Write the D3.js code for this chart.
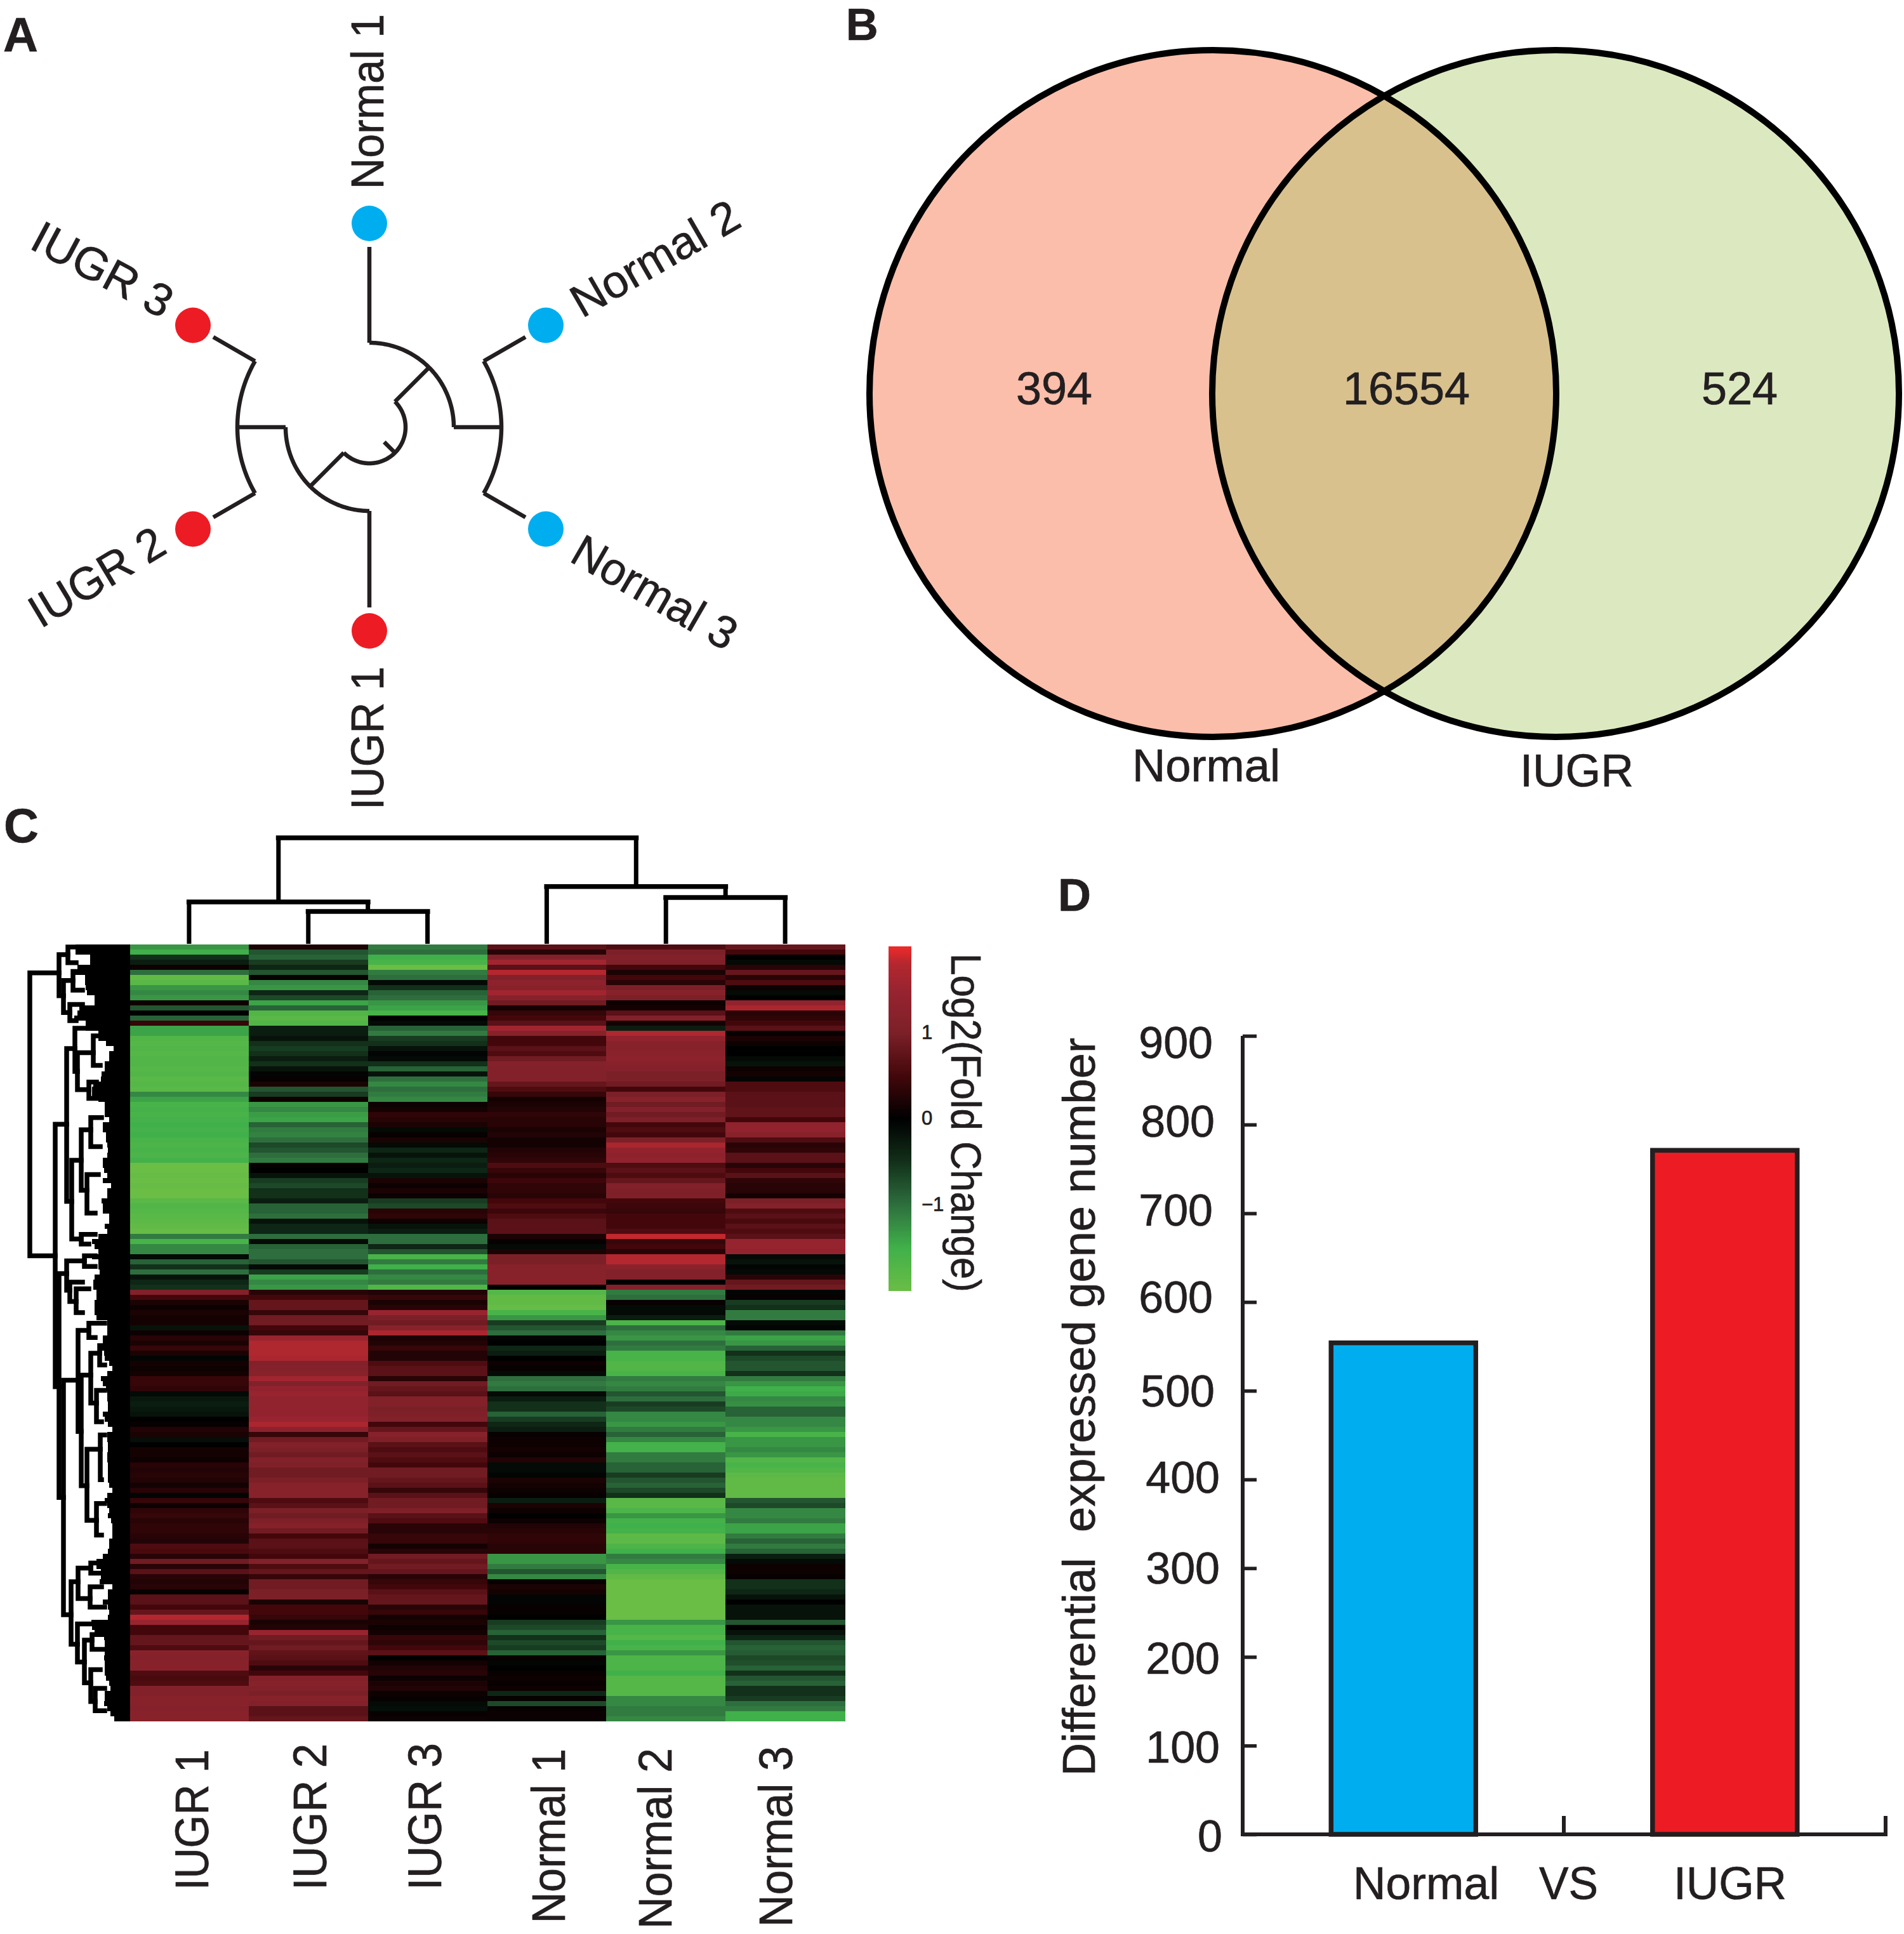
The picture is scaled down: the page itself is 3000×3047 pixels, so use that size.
<!DOCTYPE html>
<html><head><meta charset="utf-8">
<style>html,body{margin:0;padding:0;background:#fff}svg{display:block}text{font-family:"Liberation Sans",Arial,sans-serif;fill:#231f20;stroke:#231f20;stroke-width:0.7px}</style>
<script src="https://cdn.jsdelivr.net/npm/d3@7"></script>
</head><body><svg id="c" width="3000" height="3047"></svg>
<script>
// ---------- data ----------
const treeLeaves = ["Normal 1","Normal 2","Normal 3","IUGR 1","IUGR 2","IUGR 3"];
const treeLeafAngles = [0,60,120,180,240,300];
const treeLeafColors = ["#00aeef","#00aeef","#00aeef","#ed1c24","#ed1c24","#ed1c24"];
const treeArcs = [[208,60,120],[133,0,90],[57,45,225],[132,180,270],[208,240,300]];           // radius, from, to
const treeStems = [[0,133,284],[60,208,284],[120,208,284],[180,132,284],[240,208,284],[300,208,284],
                   [90,133,208],[45,57,133],[225,57,133],[270,132,208],[135,33,57]];           // angle, r0, r1

const vennCounts = [394,16554,524];
const vennNames = ["Normal","IUGR"];

const heatSamples = ["IUGR 1","IUGR 2","IUGR 3","Normal 1","Normal 2","Normal 3"];
const heatIUGR1 = [
-1.3,-1.5,-0.5,-0.3,0.1,-1.0,-1.9,-1.8,-1.3,-1.2,
-1.3,0.1,-0.8,0.0,-0.9,0.4,-1.4,-1.4,-1.7,-1.75,
-1.7,-1.75,-1.7,-1.7,-1.75,-1.7,-1.8,-1.75,-1.8,-1.2,
-1.4,-1.6,-1.55,-1.6,-1.55,-1.5,-1.55,-1.5,-1.6,-1.65,
-1.6,-1.65,-1.55,-2.0,-2.0,-1.95,-2.0,-1.95,-2.0,-2.0,
-1.8,-1.7,-1.75,-1.8,-1.85,-1.9,-1.95,-1.1,-1.6,-1.2,
-1.2,-0.1,-0.9,-0.5,-1.0,-0.2,-0.4,-0.5,1.1,0.5,
0.2,0.1,0.2,0.15,0.15,-0.2,0.1,0.3,0.2,0.4,
0.2,-0.05,0.15,0.1,0.15,0.4,0.4,0.35,-0.1,-0.25,
-0.3,-0.25,-0.2,0.0,0.05,0.25,0.2,-0.15,0.0,0.15,
0.15,0.1,0.3,0.25,0.3,0.25,0.15,0.3,-0.05,0.4,
0.1,0.35,0.4,0.3,0.35,0.35,0.3,0.25,0.6,0.55,
0.3,0.9,0.3,0.7,0.3,0.25,0.3,0.05,0.7,0.7,
0.5,0.8,1.8,1.5,0.5,0.5,0.8,0.8,0.6,1.2,
1.15,1.2,1.2,0.6,0.55,0.6,1.1,1.1,1.2,1.2,
1.15,1.2,1.2];
const heatIUGR2 = [
0.2,-0.8,-0.9,-0.6,-0.4,-0.8,0.05,-1.2,-1.3,-0.4,
-0.7,-1.4,-0.9,-1.7,-1.8,-1.7,-0.3,-0.3,-0.2,-0.5,
-0.6,-0.5,-0.3,-0.5,-0.2,-0.05,0.05,0.2,-0.8,-0.6,
0.1,-1.3,-1.2,-1.35,-1.4,-0.9,-1.1,-1.15,-1.0,-0.7,
-0.8,-1.0,-1.1,0.05,0.0,-0.2,-0.6,-0.7,-0.5,-0.5,
-0.3,-0.9,-0.9,-1.0,-0.2,-0.4,-0.4,-1.0,-0.1,-0.9,
-1.0,-1.0,-0.8,-0.1,-0.6,-1.4,-1.2,-1.3,0.3,0.5,
0.8,0.8,0.4,0.9,0.9,0.5,0.4,1.5,1.75,1.75,
1.75,1.7,1.1,1.15,1.2,1.6,1.1,1.4,1.5,1.35,
1.35,1.4,1.4,1.5,1.7,1.3,0.4,0.9,1.1,1.0,
0.9,1.1,1.05,0.9,0.9,1.0,1.2,1.2,1.2,0.6,
0.7,1.0,0.9,1.05,1.15,0.9,0.5,0.7,0.7,0.6,
0.5,1.1,0.6,0.8,0.4,0.9,0.9,1.0,1.0,0.2,
0.5,0.5,0.4,0.2,0.25,1.5,0.9,0.8,0.9,0.75,
0.7,0.6,0.3,0.5,1.1,1.2,1.1,1.0,1.2,1.1,
0.7,0.7,0.8];
const heatIUGR3 = [
-1.1,-1.0,-1.5,-1.6,-2.0,-1.1,-1.0,-0.1,-0.5,-0.9,
-1.0,-1.3,-1.4,-1.6,0.0,-0.1,-0.9,-1.1,-0.6,-0.5,
-0.2,-0.05,-0.1,-0.5,-0.9,-0.2,-1.0,-1.2,-1.0,-1.1,
-1.2,0.1,0.15,0.35,0.3,0.2,-0.1,0.05,0.2,-0.1,
-0.4,-0.2,-0.4,-0.3,-0.4,-0.2,0.2,0.1,0.2,0.1,
-0.6,-0.7,0.3,0.35,0.1,-0.2,-0.3,-1.0,-1.0,-0.4,
-0.8,-1.6,-1.1,-1.5,-1.0,-1.2,-1.1,-1.7,0.25,0.4,
0.2,0.3,1.5,1.0,0.9,1.2,1.7,0.2,0.25,0.4,
0.25,0.25,0.6,0.7,0.7,0.3,0.9,0.8,0.7,1.1,
1.1,1.0,1.05,1.1,0.5,0.8,1.2,1.05,0.7,0.6,
0.7,0.6,0.5,0.9,0.9,0.8,0.7,0.4,0.7,0.9,
0.9,1.05,0.7,0.6,0.3,0.3,0.4,0.4,0.15,0.3,
0.9,0.8,0.9,0.8,0.3,0.4,0.5,0.7,0.8,0.8,
0.3,0.4,0.15,0.2,0.1,0.15,0.4,0.35,0.5,0.7,
0.0,0.15,0.25,0.3,0.1,0.2,0.25,0.1,0.05,-0.1,
-0.15,0.05,0.1];
const heatNormal1 = [
0.7,0.3,1.1,1.6,0.7,1.8,1.1,1.3,1.2,1.6,
1.2,0.9,0.15,0.4,0.5,0.7,1.6,1.2,0.5,0.5,
0.7,0.6,0.9,1.15,1.1,1.1,1.1,0.8,0.6,0.4,
0.15,0.2,0.25,0.35,0.3,0.3,0.2,0.25,0.15,0.15,
0.25,0.3,0.35,0.6,0.4,0.3,0.45,0.35,0.35,0.3,
0.5,0.6,0.45,0.6,0.7,0.7,0.7,0.2,0.05,-0.1,
0.2,1.0,1.0,1.2,1.2,1.2,1.2,0.0,-1.75,-1.9,
-1.9,-1.95,-1.6,-1.3,-0.6,-0.8,-1.0,-0.05,0.0,-0.4,
-0.3,0.0,0.1,0.05,-0.1,-1.0,-1.1,-1.0,-0.1,-0.3,
-0.5,-0.5,-0.9,-0.6,-0.4,-0.3,0.05,0.1,0.1,0.15,
0.1,0.25,-0.1,-0.1,-0.05,0.2,0.15,0.1,0.05,-0.3,
0.2,0.1,0.0,0.1,0.25,0.3,0.35,0.35,0.3,0.3,
-1.3,-1.3,-1.1,-0.8,-1.2,0.05,0.2,0.15,-0.05,-0.05,
0.05,0.05,0.0,-0.6,-0.7,-0.9,-0.5,-0.7,-0.6,-0.9,
0.05,-0.05,0.0,0.05,0.1,0.05,0.1,-0.4,0.05,-0.7,
0.05,0.08,0.08];
const heatNormal2 = [
0.6,1.0,1.1,1.05,0.5,0.2,0.5,0.3,1.0,1.2,
1.0,0.1,0.15,0.7,1.1,0.15,-0.3,1.75,1.4,1.2,
1.2,1.25,1.3,1.2,1.15,1.0,1.0,0.9,0.5,1.0,
1.2,0.9,1.1,0.9,1.05,0.5,0.6,0.5,1.0,1.7,
1.4,1.3,1.35,0.6,0.7,0.6,0.8,1.1,1.05,1.05,
0.5,0.45,0.4,0.5,0.5,0.5,0.6,1.85,0.4,0.5,
0.3,1.8,1.8,1.25,1.1,1.1,0.0,1.1,-1.1,-1.0,
0.05,-0.1,-0.1,-0.3,-1.65,-1.0,-1.2,-1.3,-1.0,-1.1,
-1.6,-1.6,-1.7,-1.7,-1.6,-1.1,-1.2,-1.1,-0.8,-1.0,
-0.6,-0.7,-1.2,-1.2,-1.3,-1.1,-0.9,-1.2,-1.55,-1.55,
-1.1,-1.1,-0.9,-0.9,-0.6,-0.8,-0.9,-0.7,-0.5,-1.8,
-1.8,-1.65,-1.3,-1.55,-1.5,-1.55,-1.85,-1.85,-1.65,-1.5,
-1.1,-1.2,-1.6,-1.7,-1.9,-2.0,-2.0,-2.0,-2.0,-2.0,
-2.0,-2.0,-2.0,-1.3,-1.6,-1.6,-1.75,-1.5,-1.6,-1.3,
-1.65,-1.65,-1.65,-1.5,-1.75,-1.75,-1.75,-1.75,-1.2,-1.2,
-1.1,-1.1,-1.2];
const heatNormal3 = [
0.8,0.5,0.0,-0.1,0.3,0.8,0.3,0.6,0.1,-0.1,
0.0,1.4,1.7,0.3,0.35,0.5,0.7,0.05,0.2,0.1,
0.0,0.0,-0.1,-0.2,0.1,0.15,-0.05,0.6,0.6,0.7,
0.7,0.7,0.75,0.75,0.5,1.35,1.35,1.2,0.6,0.3,
0.35,0.7,0.7,0.3,0.5,0.7,0.35,0.3,0.3,0.15,
1.0,1.15,0.6,0.7,0.55,0.7,0.6,0.7,1.45,1.45,
1.4,-0.1,-0.2,-0.05,-0.1,0.3,0.8,0.9,-0.05,0.05,
-0.6,-0.5,-1.1,-1.1,-0.1,-0.05,-1.1,-1.4,-1.3,-0.9,
-0.5,-0.7,-0.8,-0.8,-0.5,-1.1,-1.3,-1.5,-1.45,-1.2,
-1.25,-0.9,-0.9,-1.2,-1.2,-1.3,-1.6,-1.3,-1.3,-1.2,
-1.3,-1.7,-1.6,-1.7,-1.85,-1.9,-1.9,-1.9,-1.9,-0.8,
-0.7,-1.2,-1.2,-1.1,-1.4,-1.4,-1.1,-0.9,-1.1,-0.9,
-0.3,-0.1,0.1,0.1,0.05,-0.5,-0.5,-0.4,-0.2,0.0,
-0.2,-0.2,-0.2,-0.8,0.0,-0.2,-0.4,-0.8,-0.9,-0.85,
-0.7,-0.75,-0.9,-0.5,-0.8,-0.9,-0.5,-0.5,-0.6,-1.0,
-1.1,-1.5,-1.5];
const heatColumns = [heatIUGR1,heatIUGR2,heatIUGR3,heatNormal1,heatNormal2,heatNormal3];
const heatStops = [-2,-1.5,-1,-0.5,0,0.5,1,1.5,1.8,2];
const heatStopColors = ["#6abd45","#40b04a","#2e6e3e","#12301a","#000000","#43070b","#7c2028","#982430","#b4272f","#ee2a2b"];
const colorbarTicks = [1,0,-1];

// column dendrogram: merge heights of the clusters
const colTree = {h:100,children:[
  {h:39.5,children:[{leaf:0},{h:30.5,children:[{leaf:1},{leaf:2}]}]},
  {h:54,children:[{leaf:3},{h:43.7,children:[{leaf:4},{leaf:5}]}]}]};
// row dendrogram: [merge depth, top row, bottom row, depth of top child, depth of bottom child]
const rowBranches = [
[157,5.6,61.3,111,117],[111,2,10.1,97,104],[97,0.5,3.6,81,84],[104,7.1,13.4,89,94],[89,5.3,9,69,74],
[94,11.8,15,74,84],[117,35.4,87.1,99,111],[99,20.5,50.6,86,91],[86,16.5,25,44,82],[82,21.3,28.6,57,64],
[57,18,23.8,39,46],[64,27.1,30.3,52,52],[91,42.5,58,76,76],[76,36.5,48.4,61,67],[61,34.1,39.8,44,46],
[67,45.3,52.9,49,54],[76,57.1,59,54,64],[111,64.8,108.9,99,104],[99,62.3,68.1,71,94],[71,61.3,63.4,54,54],
[94,66.5,70.3,74,84],[84,67.8,72.5,64,74],[104,85.8,132,81,92],[81,76,95.9,64,76],[64,74.6,77.4,39,54],
[76,84.8,106.6,61,67],[61,80.5,90.3,47,52],[47,79,82.8,39,39],[52,87.8,94,39,44],[67,99.4,113.4,46,52],
[46,96.6,105.4,39,44],[52,110.1,116.3,39,44],[92,125.5,137.8,81,82],[81,122.8,128.8,61,62],[61,121.8,123.8,39,44],
[62,126.5,130.5,44,39],[82,133.8,141.3,59,71],[71,137,145.4,59,61],[59,135.9,138.8,39,39],[61,142.8,149.1,46,54],
[54,146.5,150.9,39,39]];
// depth at which the fine, merged-together leaf branches of each row begin
const rowLeafDepth = [
77,77,54,54,74,81,62,62,61,59,
47,47,71,74,79,61,61,41,41,29,
17,24,24,31,31,36,37,49,51,51,
41,31,31,31,24,34,34,29,29,27,
26,27,34,34,32,27,34,21,27,27,
36,34,34,24,24,31,27,41,51,47,
41,51,41,41,39,47,49,49,44,44,
47,47,47,44,27,27,27,34,34,41,
32,31,24,19,27,37,34,29,27,27,
26,26,34,31,26,19,27,27,26,26,
27,27,26,26,26,26,24,19,27,31,
27,24,26,21,19,19,19,24,24,26,
34,44,44,37,37,39,19,26,26,34,
26,24,26,52,51,47,32,31,31,31,
32,31,31,31,29,24,22,31,31,32,
27,22,16];

const barNames = ["Normal","IUGR"];
const barValues = [554,771];
const barColors = ["#00aeef","#ed1c24"];
const barTicks = [0,100,200,300,400,500,600,700,800,900];

// ---------- helpers ----------
const INK = "#231f20";
const svg = d3.select("#c");
function label(text,x,y,size,opt={}){
  const t = svg.append("text").attr("transform",`translate(${x},${y}) rotate(${opt.rotate||0})`)
    .attr("font-size",size).attr("font-weight",opt.bold?"bold":null).attr("text-anchor",opt.anchor||"start")
    .style("white-space","pre").text(text);
  if(opt.len) t.attr("textLength",opt.len).attr("lengthAdjust","spacingAndGlyphs");
  return t;
}
label("A",5,81,76,{bold:true});
label("B",1333,63,70,{bold:true});
label("C",6,1327,76,{bold:true});
label("D",1667,1435,72,{bold:true});

// ---------- A: radial tree ----------
const gA = svg.append("g").attr("transform","translate(582,673)");
const rad = d=>d*Math.PI/180;
const radial = d3.lineRadial().angle(d=>rad(d[0])).radius(d=>d[1]);
gA.selectAll("path.arc").data(treeArcs).join("path").attr("class","arc")
  .attr("d",d=>radial(d3.range(d[1],d[2]+1,1).map(a=>[a,d[0]])))
  .attr("fill","none").attr("stroke",INK).attr("stroke-width",6.5);
gA.selectAll("path.stem").data(treeStems).join("path").attr("class","stem")
  .attr("d",d=>radial([[d[0],d[1]],[d[0],d[2]]]))
  .attr("fill","none").attr("stroke",INK).attr("stroke-width",6.5);
gA.selectAll("circle").data(treeLeaves).join("circle")
  .attr("cx",(d,i)=>d3.pointRadial(rad(treeLeafAngles[i]),321)[0])
  .attr("cy",(d,i)=>d3.pointRadial(rad(treeLeafAngles[i]),321)[1])
  .attr("r",28).attr("fill",(d,i)=>treeLeafColors[i]);
label(treeLeaves[0],604,298,72,{rotate:-90,len:276});
label(treeLeaves[1],917,502,72,{rotate:-30,len:294});
label(treeLeaves[2],895,883,72,{rotate:30,len:287});
label(treeLeaves[3],604,1276,72,{rotate:-90,len:226});
label(treeLeaves[4],64,991,72,{rotate:-31,len:236});
label(treeLeaves[5],44,390,72,{rotate:28,len:240});

// ---------- B: venn ----------
const vennR = 541;
const vennX = d3.scaleLinear().domain([0,1]).range([1911,2451]);
const defs = svg.append("defs");
defs.append("clipPath").attr("id","leftC").append("circle").attr("cx",vennX(0)).attr("cy",620).attr("r",vennR);
svg.append("circle").attr("cx",vennX(0)).attr("cy",620).attr("r",vennR).attr("fill","#fbbeab");
svg.append("circle").attr("cx",vennX(1)).attr("cy",620).attr("r",vennR).attr("fill","#dce9c0");
svg.append("circle").attr("cx",vennX(1)).attr("cy",620).attr("r",vennR).attr("fill","#d9c18e").attr("clip-path","url(#leftC)");
svg.selectAll("circle.o").data([0,1]).join("circle").attr("class","o").attr("cx",d=>vennX(d)).attr("cy",620).attr("r",vennR)
  .attr("fill","none").attr("stroke","#000").attr("stroke-width",10);
const vennLabelX = [1661,2216,2741];
vennCounts.forEach((v,i)=>label(String(v),vennLabelX[i],637,72,{anchor:"middle"}));
label(vennNames[0],1784,1231,72,{len:233});
label(vennNames[1],2395,1239,72,{len:179});

// ---------- C: heatmap ----------
const heatX = d3.scaleBand().domain(heatSamples).range([204,1331]);
const heatY = d3.scaleBand().domain(d3.range(heatIUGR1.length)).range([1488,2712]);
const heatColor = d3.scaleLinear().domain(heatStops).range(heatStopColors).clamp(true);
const heatG = svg.append("g").attr("shape-rendering","crispEdges");
heatColumns.forEach((col,c)=>{
  heatG.append("g").selectAll("rect").data(col).join("rect")
    .attr("x",heatX(heatSamples[c])).attr("width",heatX.bandwidth()+0.6)
    .attr("y",(d,i)=>heatY(i)).attr("height",heatY.bandwidth())
    .attr("fill",d=>heatColor(d));
});
// column dendrogram
const colRoot = d3.hierarchy(colTree);
const colDepth = d3.scaleLinear().domain([0,100]).range([1487,1320]);
colRoot.eachAfter(n=>{
  if(n.data.leaf!==undefined){ n.px=heatX(heatSamples[n.data.leaf])+heatX.bandwidth()/2; n.py=colDepth(0); }
  else { n.px=d3.mean(n.children,c=>c.px); n.py=colDepth(n.data.h); }
});
const colG = svg.append("g").attr("fill","none").attr("stroke","#000");
colRoot.descendants().filter(n=>n.children).forEach(n=>{
  colG.append("line").attr("x1",n.children[0].px-4).attr("x2",n.children[1].px+4).attr("y1",n.py).attr("y2",n.py).attr("stroke-width",7.5);
  n.children.forEach(c=>colG.append("line").attr("x1",c.px).attr("x2",c.px).attr("y1",n.py).attr("y2",c.py).attr("stroke-width",7));
});
// row dendrogram
const rowInset = 8;
const rowDepth = d3.scaleLinear().domain([0,160]).range([204,44]);
const rowPos = d3.scaleLinear().domain([0,heatIUGR1.length]).range([1488,2712]);
svg.append("g").attr("shape-rendering","crispEdges").selectAll("rect").data(rowLeafDepth).join("rect")
  .attr("x",d=>rowDepth(d+rowInset)).attr("width",d=>rowDepth(0)-rowDepth(d+rowInset)+1)
  .attr("y",(d,i)=>heatY(i)).attr("height",heatY.bandwidth()).attr("fill","#000");
const rowG = svg.append("g").attr("fill","none").attr("stroke","#000").attr("stroke-width",7.5).attr("stroke-linecap","square");
rowG.selectAll("path").data(rowBranches).join("path")
  .attr("d",d=>{const p=d3.path();
    p.moveTo(rowDepth(d[3]),rowPos(d[1]));p.lineTo(rowDepth(d[0]),rowPos(d[1]));
    p.lineTo(rowDepth(d[0]),rowPos(d[2]));p.lineTo(rowDepth(d[4]),rowPos(d[2]));return p.toString();});
// sample labels
const heatLabelPos = [[328,2978,222],[514,2978,231],[695,2978,232],[890,3030,275],[1058,3039,285],[1248,3036,285]];
heatSamples.forEach((s,i)=>label(s,heatLabelPos[i][0],heatLabelPos[i][1],74,{rotate:-90,len:heatLabelPos[i][2]}));
// colour bar
const barY = d3.scaleLinear().domain([-2,2]).range([2033,1491]);
svg.append("g").attr("shape-rendering","crispEdges").selectAll("rect").data(d3.range(-2,2,0.02)).join("rect")
  .attr("x",1400).attr("width",36).attr("y",d=>barY(d+0.02)-0.5).attr("height",d=>barY(d)-barY(d+0.02)+1)
  .attr("fill",d=>heatColor(d+0.01));
const cbAxis = svg.append("g").attr("transform","translate(1452,0)").call(d3.axisRight(barY).tickValues(colorbarTicks).tickSize(0).tickPadding(0).tickFormat(d3.format("d")));
cbAxis.select(".domain").remove();
cbAxis.selectAll("text").attr("font-size",31).attr("font-family",null).style("font-family",'"Liberation Sans"');
label("Log2(Fold Change)",1499,1502,67,{rotate:90,len:534});

// ---------- D: bars ----------
const bx = d3.scaleBand().domain(barNames).range([1958,2971]).paddingInner(0.55).paddingOuter(0.275);
const by = d3.scaleLinear().domain([0,900]).range([2890,1632]);
svg.selectAll("rect.bar").data(barValues).join("rect").attr("class","bar")
  .attr("x",(d,i)=>bx(barNames[i])).attr("width",bx.bandwidth())
  .attr("y",d=>by(d)).attr("height",d=>by(0)-by(d))
  .attr("fill",(d,i)=>barColors[i]).attr("stroke",INK).attr("stroke-width",7.5);
const yAxis = svg.append("g").attr("transform","translate(1958,0)")
  .call(d3.axisLeft(by).tickValues(barTicks).tickSize(-22).tickPadding(38).tickFormat(d3.format("d")));
yAxis.select(".domain").attr("stroke",INK).attr("stroke-width",6).attr("d",`M0,${by(900)}V${by(0)}`);
yAxis.selectAll(".tick line").attr("stroke",INK).attr("stroke-width",5.5);
const tickRight = [1926,1922,1922,1922,1922,1914,1911,1911,1914,1911];
const tickShift = [2,2,2,0,-3,0,-8,-5,-5,10];
yAxis.selectAll(".tick text").attr("font-size",70).style("font-family",'"Liberation Sans"')
  .attr("x",(d,i)=>tickRight[i]-1958).attr("dy",null).attr("y",(d,i)=>tickShift[i]+24);
svg.append("line").attr("x1",1955).attr("x2",2974).attr("y1",by(0)).attr("y2",by(0)).attr("stroke",INK).attr("stroke-width",6);
[2464,2971].forEach(x=>svg.append("line").attr("x1",x).attr("x2",x).attr("y1",by(0)).attr("y2",by(0)-29).attr("stroke",INK).attr("stroke-width",6));
label(barNames[0],2132,2992,72,{len:230});
label("VS",2425,2992,72,{len:93});
label(barNames[1],2637,2992,72,{len:178});
label("Differential  expressed gene number",1725,2798,72,{rotate:-90,len:1163});
</script></body></html>
